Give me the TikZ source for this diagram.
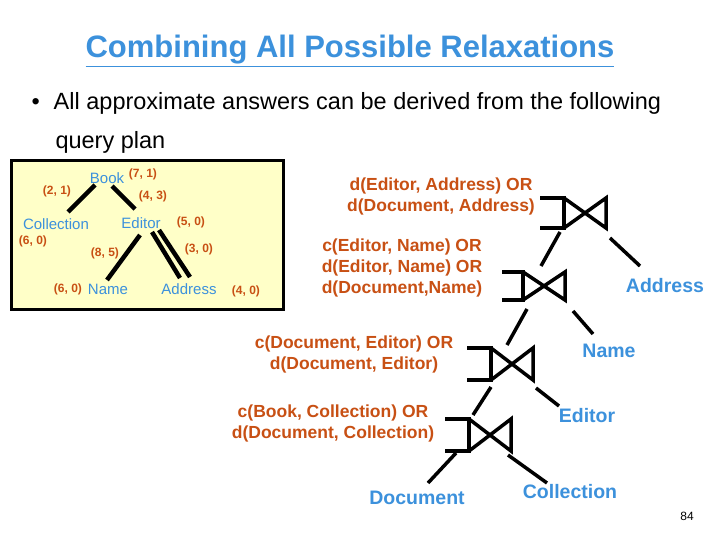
\documentclass[tikz,border=0pt]{standalone}
\usepackage{fontspec}
\setmainfont{Liberation Sans}
\definecolor{tblue}{RGB}{60,145,220}
\definecolor{torange}{RGB}{200,80,20}
\definecolor{tyellow}{RGB}{255,255,200}
\begin{document}
\begin{tikzpicture}[x=1pt,y=-1pt,
 bl/.style={text=tblue,font=\bfseries\fontsize{19.5}{22}\selectfont,inner sep=1pt},
 blsm/.style={text=tblue,font=\fontsize{15}{18}\selectfont,inner sep=1pt},
 num/.style={text=torange,font=\bfseries\fontsize{12}{14}\selectfont,inner sep=1pt},
 cond/.style={text=torange,font=\bfseries\fontsize{17.5}{21}\selectfont,align=center,inner sep=1pt},
 thk/.style={line width=4.5pt},
 ln/.style={line width=3.5pt}]
\useasboundingbox (0,0) rectangle (720,540);
\fill[white] (0,0) rectangle (720,540);
% title
\node (title)[text=tblue,font=\bfseries\fontsize{31}{34}\selectfont] at (350,51) {\underline{Combining All Possible Relaxations}};
\node (b1)[anchor=west,font=\fontsize{23.5}{27}\selectfont] at (28,103) {•\hspace{14pt}All approximate answers can be derived from the following};
\node (b2)[anchor=west,font=\fontsize{23.5}{27}\selectfont] at (52,142) {query plan};
% left box
\draw[fill=tyellow,line width=3pt] (11,161) rectangle (283,309);
\node (book)[blsm] at (107,178) {Book};
\node[num] at (143,174) {(7, 1)};
\node[num] at (57,191) {(2, 1)};
\node[num] at (153,196) {(4, 3)};
\node (coll)[blsm] at (56,224) {Collection};
\node[num] at (33,241) {(6, 0)};
\node (ed)[blsm] at (141,223) {Editor};
\node[num] at (191,222) {(5, 0)};
\node[num] at (105,253) {(8, 5)};
\node[num] at (199,249) {(3, 0)};
\node[num] at (68,289) {(6, 0)};
\node (nm)[blsm] at (108,289) {Name};
\node (ad)[blsm] at (189,289) {Address};
\node[num] at (246,291) {(4, 0)};
\draw[thk] (95,185) -- (68,212);
\draw[thk] (112,186) -- (135,209);
\draw[thk] (140,235) -- (107,280);
\draw[thk] (152,232) -- (180,278);
\draw[thk] (159,230) -- (190,277);
% joins
\foreach \n/\x/\t/\b/\h in {j1/564/198/228/540, j2/523/272/300/502, j3/491/348/380/467, j4/469/419/451/445}{
  \draw[ln] (\h,\t) -- (\x,\t) -- (\x,\b) -- (\h,\b);
  \draw[ln,line join=miter] (\x,\t) -- (\x+42,\b) -- (\x+42,\t) -- (\x,\b);
}
\node (c1)[cond] at (441,196) {d(Editor, Address) OR\\d(Document, Address)};
\node (c2)[cond] at (402,268) {c(Editor, Name) OR\\d(Editor, Name) OR\\d(Document,Name)};
\node (c3)[cond] at (354,354) {c(Document, Editor) OR\\d(Document, Editor)};
\node (c4)[cond] at (333,423) {c(Book, Collection) OR\\d(Document, Collection)};
\node (A)[bl] at (665,286) {Address};
\node (N)[bl] at (609,351) {Name};
\node (E)[bl] at (587,416) {Editor};
\node (D)[bl] at (417,498) {Document};
\node (C)[bl] at (570,492) {Collection};
\draw[ln] (560,232) -- (541,266);
\draw[ln] (610,238) -- (640,266);
\draw[ln] (527,309) -- (507,345);
\draw[ln] (573,311) -- (593,334);
\draw[ln] (491,387) -- (473,415);
\draw[ln] (536,388) -- (559,406);
\draw[ln] (456,453) -- (428,483);
\draw[ln] (508,455) -- (547,483);
\node (pg)[font=\fontsize{12}{14}\selectfont] at (687,516) {84};
\end{tikzpicture}
\end{document}
